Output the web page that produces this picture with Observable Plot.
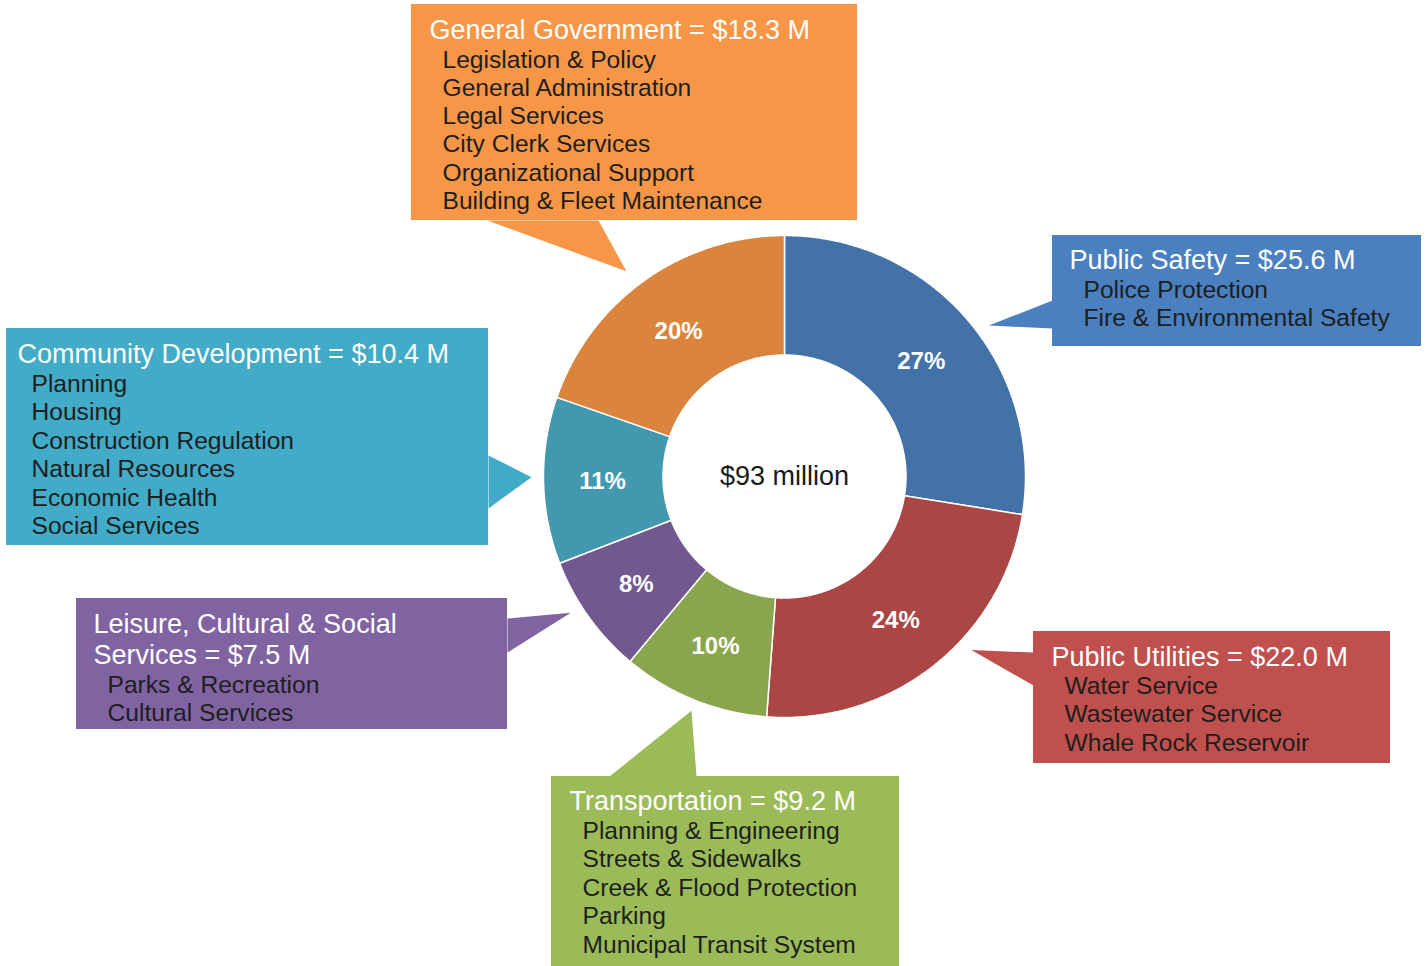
<!DOCTYPE html>
<html>
<head>
<meta charset="utf-8">
<script src="https://cdn.jsdelivr.net/npm/d3@7"></script>
<script src="https://cdn.jsdelivr.net/npm/@observablehq/plot@0.6"></script>
<style>
  html, body { margin: 0; padding: 0; background: #fff; }
  #chart svg { display: block; }
</style>
</head>
<body>
<div id="chart"></div>
<script>
// ---------- DATA ----------
const categories = ["Public Safety", "Public Utilities", "Transportation",
  "Leisure, Cultural & Social Services", "Community Development", "General Government"];
const amounts = [25.6, 22.0, 9.2, 7.5, 10.4, 18.3];            // $ millions
const percentLabels = ["27%", "24%", "10%", "8%", "11%", "20%"];
const titleLines = [
  ["Public Safety = $25.6 M"],
  ["Public Utilities = $22.0 M"],
  ["Transportation = $9.2 M"],
  ["Leisure, Cultural & Social", "Services = $7.5 M"],
  ["Community Development = $10.4 M"],
  ["General Government = $18.3 M"]
];
const programs = [
  ["Police Protection", "Fire & Environmental Safety"],
  ["Water Service", "Wastewater Service", "Whale Rock Reservoir"],
  ["Planning & Engineering", "Streets & Sidewalks", "Creek & Flood Protection", "Parking", "Municipal Transit System"],
  ["Parks & Recreation", "Cultural Services"],
  ["Planning", "Housing", "Construction Regulation", "Natural Resources", "Economic Health", "Social Services"],
  ["Legislation & Policy", "General Administration", "Legal Services", "City Clerk Services", "Organizational Support", "Building & Fleet Maintenance"]
];
const totalLabel = "$93 million";

// ---------- STYLE / LAYOUT ----------
const sliceColors = ["#4272a7", "#aa4644", "#89a64e", "#71588f", "#4198af", "#db843d"];
const boxColors   = ["#4a80c0", "#c0504d", "#9bbb59", "#8064a2", "#42abc7", "#f79646"];
const W = 1428, H = 966;
const cx = 784, cy = 476, rOuter = 241, rInner = 121.5, rLabel = 181;
const FONT = "'Liberation Sans', Arial, Helvetica, sans-serif";
// callout boxes: rectangle, text anchors, pointer base, pointer tip (angle nudge deg, radius)
const boxes = [
  {x1: 1052, y1: 235, x2: 1421, y2: 346, tx: 1069, ix: 1083, tb: 268, ib: 297, step: 28.3, base: [[1052, 300], [1052, 328]], nudge: 4.0, tr: 254},
  {x1: 1033, y1: 631, x2: 1390, y2: 763, tx: 1051, ix: 1064, tb: 665, ib: 693, step: 28.5, base: [[1033, 652], [1033, 685]], nudge: -8.8, tr: 255},
  {x1: 551,  y1: 776, x2: 899,  y2: 966, tx: 569,  ix: 582,  tb: 809, ib: 838, step: 28.5, base: [[609, 776], [696, 776]], nudge: -0.4, tr: 252},
  {x1: 76,   y1: 598, x2: 507,  y2: 729, tx: 93,   ix: 107,  tb: 632, ib: 692, step: 28.0, tstep: 31, base: [[507, 618], [507, 652]], nudge: 3.1, tr: 253.5},
  {x1: 6,    y1: 328, x2: 488,  y2: 545, tx: 17,   ix: 31,   tb: 362, ib: 391, step: 28.5, base: [[488, 455], [488, 508]], nudge: 0.8, tr: 253},
  {x1: 411,  y1: 4,   x2: 857,  y2: 220, tx: 429,  ix: 442,  tb: 38,  ib: 67,  step: 28.3, base: [[487, 220], [598, 220]], nudge: -2.2, tr: 259}
];

// ---------- DERIVED ----------
const arcs = d3.pie().sort(null).value(d => d)(amounts);
const polar = (a, r) => [cx + r * Math.sin(a), cy - r * Math.cos(a)];

const slicePts = [];
arcs.forEach((a, i) => {
  const n = Math.max(8, Math.ceil((a.endAngle - a.startAngle) / (Math.PI / 360)));
  for (let k = 0; k <= n; k++) {
    const t = a.startAngle + (a.endAngle - a.startAngle) * k / n;
    const [x, y] = polar(t, rOuter);
    slicePts.push({i, x, y, color: sliceColors[i]});
  }
  for (let k = n; k >= 0; k--) {
    const t = a.startAngle + (a.endAngle - a.startAngle) * k / n;
    const [x, y] = polar(t, rInner);
    slicePts.push({i, x, y, color: sliceColors[i]});
  }
});

const pctRows = arcs.map((a, i) => {
  const [x, y] = polar((a.startAngle + a.endAngle) / 2, rLabel);
  return {x, y, text: percentLabels[i]};
});

const pointerPts = [];
boxes.forEach((b, i) => {
  const a = arcs[i];
  const tip = polar((a.startAngle + a.endAngle) / 2 + b.nudge * Math.PI / 180, b.tr);
  [b.base[0], tip, b.base[1]].forEach(([x, y]) => pointerPts.push({i, x, y, color: boxColors[i]}));
});

const boxRows = boxes.map((b, i) => ({...b, color: boxColors[i]}));

const titleRows = [], itemRows = [];
boxes.forEach((b, i) => {
  titleLines[i].forEach((t, k) => titleRows.push({x: b.tx, y: b.tb + k * (b.tstep || 31), text: t}));
  programs[i].forEach((t, k) => itemRows.push({x: b.ix, y: b.ib + k * b.step, text: t}));
});

// ---------- PLOT ----------
const chart = Plot.plot({
  width: W, height: H,
  margin: 0,
  x: {domain: [0, W], range: [0, W], axis: null},
  y: {domain: [0, H], range: [0, H], axis: null},
  color: {type: "identity"},
  style: {fontFamily: FONT, background: "#fff"},
  marks: [
    Plot.line(pointerPts, {x: "x", y: "y", z: "i", fill: "color", stroke: "none", curve: "linear-closed"}),
    Plot.rect(boxRows, {x1: "x1", x2: "x2", y1: "y1", y2: "y2", fill: "color"}),
    Plot.line(slicePts, {x: "x", y: "y", z: "i", fill: "color", stroke: "white", strokeWidth: 1.5, curve: "linear-closed"}),
    Plot.text(pctRows, {x: "x", y: "y", text: "text", fill: "white", fontSize: 24, fontWeight: "bold", fontFamily: FONT, dx: -1, dy: 2}),
    Plot.text([totalLabel], {x: () => cx, y: () => cy, text: d => d, fill: "#1a1a1a", fontSize: 27, fontFamily: FONT}),
    Plot.text(titleRows, {x: "x", y: "y", text: "text", fill: "white", fontSize: 27, textAnchor: "start", lineAnchor: "bottom", fontFamily: FONT}),
    Plot.text(itemRows, {x: "x", y: "y", text: "text", fill: "#1e1e1e", fontSize: 24.6, textAnchor: "start", lineAnchor: "bottom", fontFamily: FONT})
  ]
});
document.getElementById("chart").appendChild(chart);
</script>
</body>
</html>
